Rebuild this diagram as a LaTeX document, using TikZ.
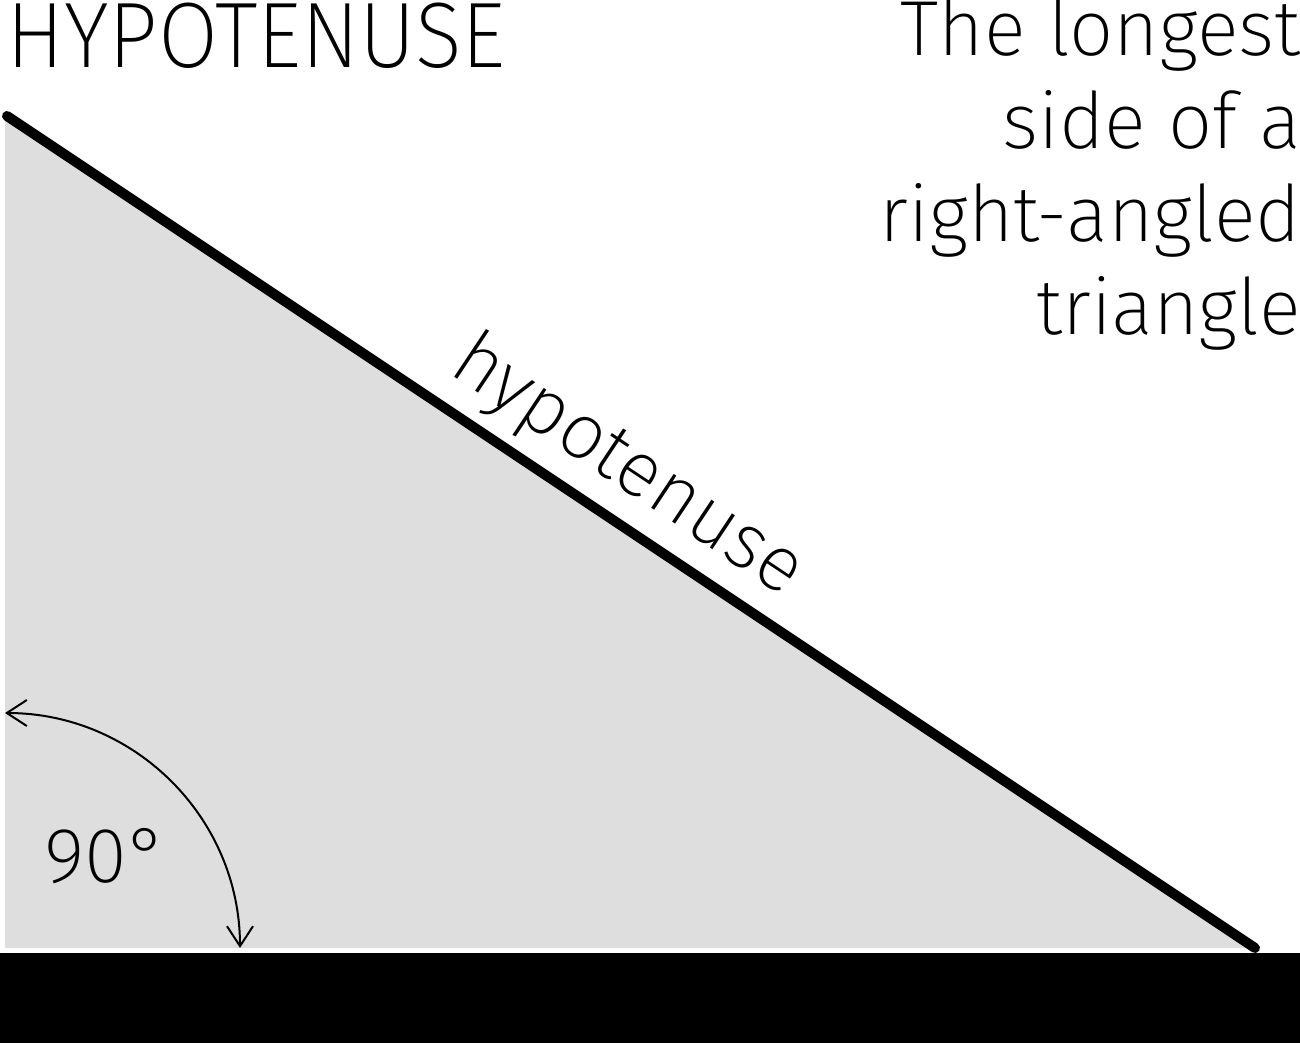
\documentclass[tikz,border=0pt]{standalone}
\usepackage{fontspec}
\IfFontExistsTF{Fira Sans ExtraLight}{\setmainfont{Fira Sans ExtraLight}}{%
  \IfFontExistsTF{Fira Sans Light}{\setmainfont{Fira Sans Light}}{\setmainfont{Fira Sans}}}
\usetikzlibrary{arrows.meta}

\definecolor{triGray}{RGB}{222,222,222}

\tikzset{
  thinText/.style={inner sep=0pt, text=black},
  hypLine/.style={line width=10pt, line cap=round},
  angleArc/.style={line width=2pt, {Straight Barb[length=20pt,width=26pt]}-{Straight Barb[length=20pt,width=26pt]}}
}

\begin{document}
\begin{tikzpicture}[x=1pt,y=-1pt]
				\useasboundingbox (0,0) rectangle (1300,1043);
				
				% corners of the triangle
				\coordinate (top) at (7,116);
				\coordinate (corner) at (5,948);
				\coordinate (tip) at (1255,948);
				
				%Shape: Triangle 
				\fill [triGray] (5,116) -- (corner) -- (tip) -- cycle;
				%Straight Lines 
				\draw [hypLine] (top) -- (tip);
				
				%Curve Lines 
				\draw [angleArc] (5,713) arc [start angle=270, end angle=360, radius=235];
				
				%Shape: Rectangle 
				\fill [black] (0,953) rectangle (1300,1043);
				
				% Text Node
				\node (title) [thinText, anchor=base west, xscale=0.935, font=\fontsize{93}{93}\selectfont] at (6,68) {HYPOTENUSE};
				% Text Node
				\node (desc) [thinText, anchor=north east, align=right, font=\fontsize{78}{92.7}\selectfont] at (1301,-2) {The longest\\side of a\\right-angled\\triangle};
				% Text Node
				\node (hyplabel) [thinText, anchor=base, rotate=-33.63, font=\fontsize{78}{78}\selectfont] at (616,485) {hypotenuse};
				% Text Node
				\node (angle) [thinText, anchor=base west, font=\fontsize{78}{78}\selectfont] at (44,882) {90°};
\end{tikzpicture}
\end{document}
